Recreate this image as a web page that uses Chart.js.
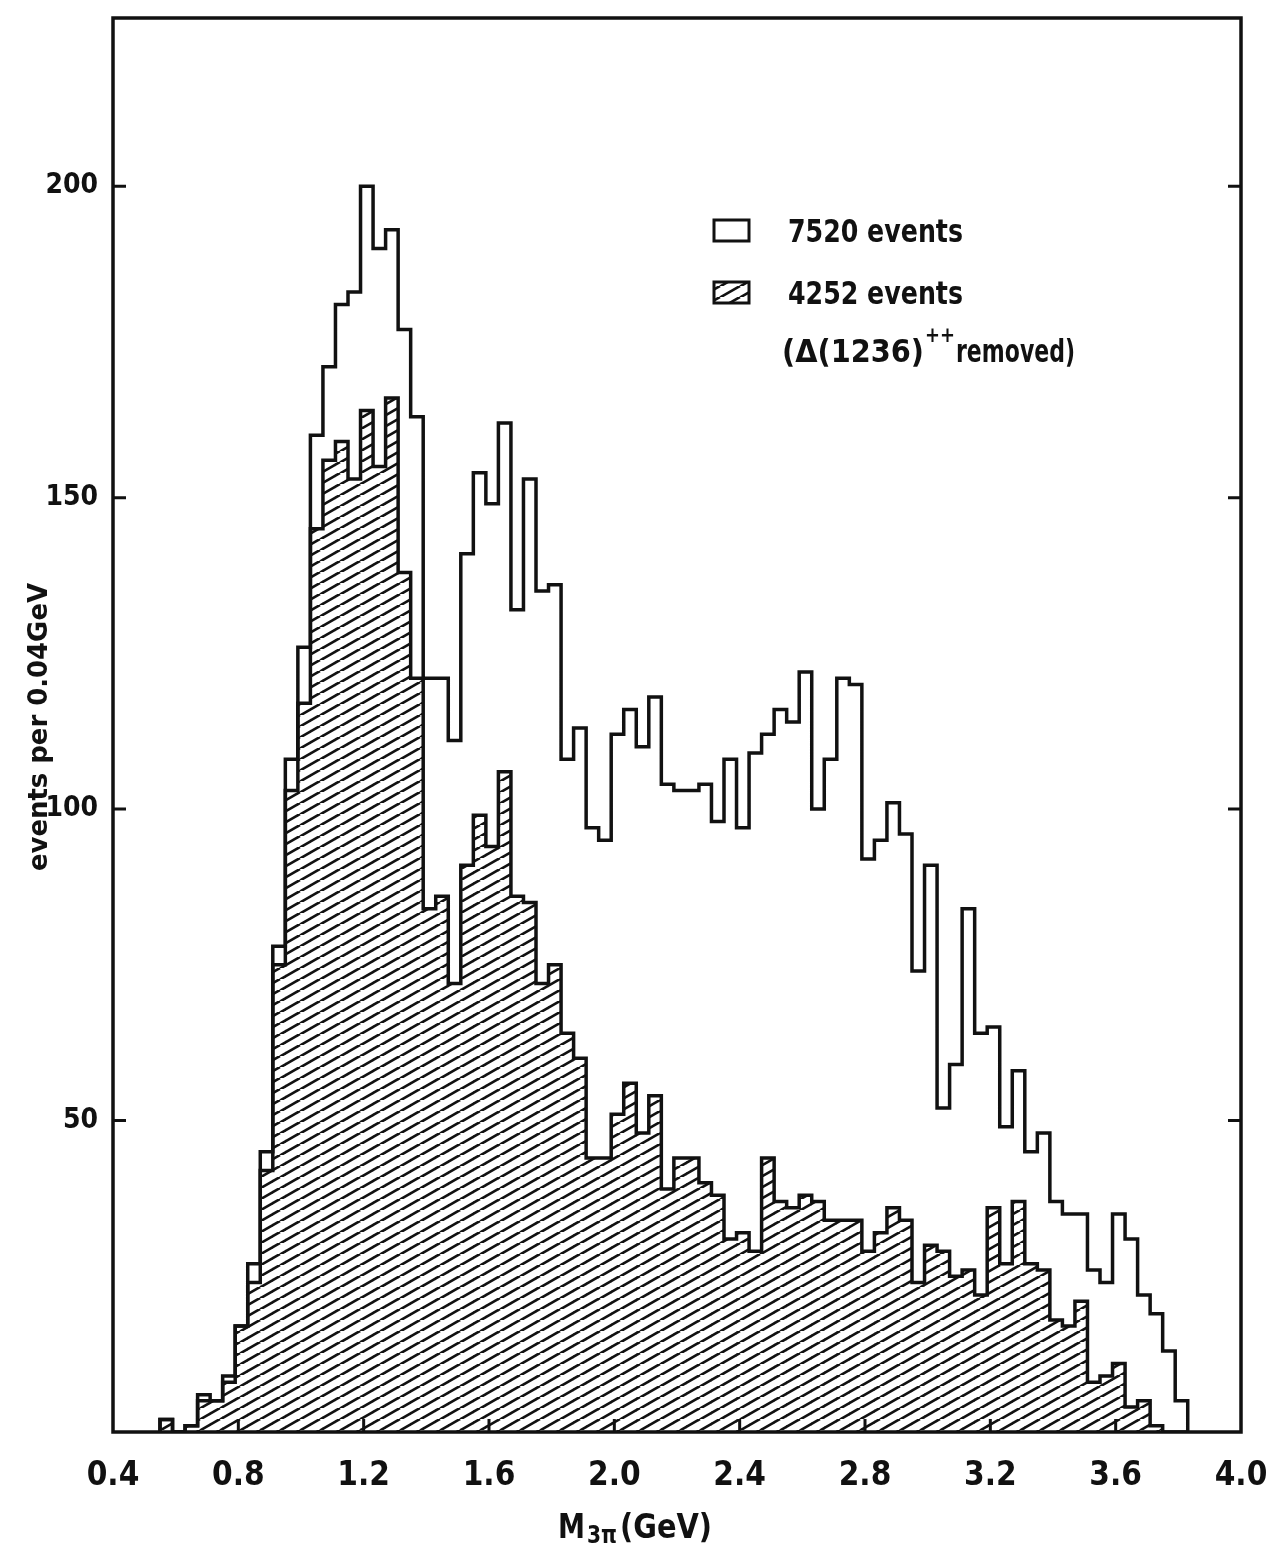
<!DOCTYPE html>
<html>
<head>
<meta charset="utf-8">
<script src="https://cdn.jsdelivr.net/npm/chart.js@4.4.0/dist/chart.umd.min.js"></script>
<style>
  html, body { margin: 0; padding: 0; background: #fff; }
  #wrap { width: 1274px; height: 1544px; }
</style>
</head>
<body>
<div id="wrap"><canvas id="chart" width="1274" height="1544"></canvas></div>
<script>
// lower edges of the 0.04 GeV mass bins (GeV)
const binLow = [
  0.55, 0.59, 0.63, 0.67, 0.71, 0.75, 0.79, 0.83, 0.87, 0.91,
  0.95, 0.99, 1.03, 1.07, 1.11, 1.15, 1.19, 1.23, 1.27, 1.31,
  1.35, 1.39, 1.43, 1.47, 1.51, 1.55, 1.59, 1.63, 1.67, 1.71,
  1.75, 1.79, 1.83, 1.87, 1.91, 1.95, 1.99, 2.03, 2.07, 2.11,
  2.15, 2.19, 2.23, 2.27, 2.31, 2.35, 2.39, 2.43, 2.47, 2.51,
  2.55, 2.59, 2.63, 2.67, 2.71, 2.75, 2.79, 2.83, 2.87, 2.91,
  2.95, 2.99, 3.03, 3.07, 3.11, 3.15, 3.19, 3.23, 3.27, 3.31,
  3.35, 3.39, 3.43, 3.47, 3.51, 3.55, 3.59, 3.63, 3.67, 3.71,
  3.75, 3.79
];
const binWidth = 0.04;

// all 3pi events (7520)
const allEvents = [
  2, 0, 1, 6, 5, 9, 17, 27, 45, 78,
  108, 126, 160, 171, 181, 183, 200, 190, 193, 177,
  163, 121, 121, 111, 141, 154, 149, 162, 132, 153,
  135, 136, 108, 113, 97, 95, 112, 116, 110, 118,
  104, 103, 103, 104, 98, 108, 97, 109, 112, 116,
  114, 122, 100, 108, 121, 120, 92, 95, 101, 96,
  74, 91, 52, 59, 84, 64, 65, 49, 58, 45,
  48, 37, 35, 35, 26, 24, 35, 31, 22, 19,
  13, 5
];

// events left after the Delta(1236)++ cut (4252)
const cutEvents = [
  2, 0, 1, 5, 5, 8, 17, 24, 42, 75,
  103, 117, 145, 156, 159, 153, 164, 155, 166, 138,
  121, 84, 86, 72, 91, 99, 94, 106, 86, 85,
  72, 75, 64, 60, 44, 44, 51, 56, 48, 54,
  39, 44, 44, 40, 38, 31, 32, 29, 44, 37,
  36, 38, 37, 34, 34, 34, 29, 32, 36, 34,
  24, 30, 29, 25, 26, 22, 36, 27, 37, 27,
  26, 18, 17, 21, 8, 9, 11, 4, 5, 1,
  0, 0
];

const xTicks = [0.4, 0.8, 1.2, 1.6, 2.0, 2.4, 2.8, 3.2, 3.6, 4.0];
const yTicks = [50, 100, 150, 200];
const legendText = ['7520 events', '4252 events'];

const FONT = "'DejaVu Sans Condensed', 'Liberation Sans Narrow', 'DejaVu Sans', sans-serif";
const INK = '#111';

// diagonal "////" fill
function hatch(ctx) {
  const w = 20, h = 11.5;
  const tile = document.createElement('canvas');
  tile.width = w;
  tile.height = h;
  const g = tile.getContext('2d');
  g.strokeStyle = INK;
  g.lineWidth = 2.6;
  g.beginPath();
  for (const dx of [-w, 0, w]) {
    g.moveTo(dx, h);
    g.lineTo(dx + w, 0);
  }
  g.stroke();
  return ctx.createPattern(tile, 'repeat');
}

// histogram outline as a stepped polyline through the bin edges
function outline(values) {
  const pts = [{x: binLow[0], y: 0}];
  values.forEach((v, i) => pts.push({x: binLow[i], y: v}));
  pts.push({x: binLow[binLow.length - 1] + binWidth, y: 0});
  return pts;
}

function fitText(ctx, text, x, y, width, font) {
  ctx.font = font;
  const w = ctx.measureText(text).width;
  ctx.save();
  ctx.translate(x, y);
  ctx.scale(width / w, 1);
  ctx.textAlign = 'left';
  ctx.fillText(text, 0, 0);
  ctx.restore();
}

// keep the plot box exactly where the layout padding puts it
function noPad(axis) {
  axis.paddingLeft = axis.paddingRight = axis.paddingTop = axis.paddingBottom = 0;
}

const canvas = document.getElementById('chart');
const ctx = canvas.getContext('2d');
const pattern = hatch(ctx);

const frame = {
  id: 'frame',
  beforeDraw(chart) {
    const c = chart.ctx;
    c.save();
    c.fillStyle = '#fff';
    c.fillRect(0, 0, chart.width, chart.height);
    c.restore();
  },
  afterDatasetsDraw(chart) {
    const c = chart.ctx;
    const a = chart.chartArea;
    const x = chart.scales.x, y = chart.scales.y;
    c.save();
    c.strokeStyle = INK;
    c.lineWidth = 3.5;
    c.lineCap = 'butt';
    c.strokeRect(a.left, a.top, a.right - a.left, a.bottom - a.top);

    c.lineWidth = 3;
    c.beginPath();
    yTicks.forEach(v => {
      const py = y.getPixelForValue(v);
      c.moveTo(a.left, py); c.lineTo(a.left + 13, py);
      c.moveTo(a.right, py); c.lineTo(a.right - 13, py);
    });
    xTicks.slice(1, -1).forEach(v => {
      const px = x.getPixelForValue(v);
      c.moveTo(px, a.bottom); c.lineTo(px, a.bottom - 13);
    });
    c.stroke();

    // legend
    c.lineWidth = 3;
    c.strokeRect(714, 220, 35, 21);
    c.fillStyle = pattern;
    c.fillRect(714, 282, 35, 21);
    c.strokeRect(714, 282, 35, 21);

    c.fillStyle = INK;
    c.textBaseline = 'alphabetic';
    fitText(c, legendText[0], 788, 242, 175, 'bold 32px ' + FONT);
    fitText(c, legendText[1], 788, 304, 175, 'bold 32px ' + FONT);
    fitText(c, '(\u0394(1236)', 782, 362, 142, 'bold 32px ' + FONT);
    fitText(c, '++', 925, 342, 30, 'bold 22px ' + FONT);
    fitText(c, 'removed)', 956, 362, 119, 'bold 32px ' + FONT);

    // axis titles
    c.save();
    c.translate(47, 727);
    c.rotate(-Math.PI / 2);
    fitText(c, 'events per 0.04GeV', -144, 0, 288, 'bold 27px ' + FONT);
    c.restore();

    fitText(c, 'M', 558, 1538, 27, 'bold 34px ' + FONT);
    fitText(c, '3\u03c0', 587, 1543, 30, 'bold 24px ' + FONT);
    fitText(c, '(GeV)', 620, 1538, 92, 'bold 34px ' + FONT);
    c.restore();
  }
};

new Chart(ctx, {
  type: 'bar',
  data: {
    datasets: [
      {
        type: 'line',
        label: '7520 events',
        data: outline(allEvents),
        stepped: true,
        borderColor: INK,
        borderWidth: 3.5,
        borderJoinStyle: 'miter',
        pointRadius: 0,
        fill: false,
        order: 0
      },
      {
        type: 'line',
        label: '4252 events outline',
        data: outline(cutEvents),
        stepped: true,
        borderColor: INK,
        borderWidth: 3.5,
        borderJoinStyle: 'miter',
        pointRadius: 0,
        fill: false,
        order: 1
      },
      {
        type: 'bar',
        label: '4252 events',
        data: cutEvents.map((v, i) => ({x: binLow[i] + binWidth / 2, y: v})),
        backgroundColor: pattern,
        borderWidth: 0,
        barPercentage: 1,
        categoryPercentage: 1,
        order: 2
      }
    ]
  },
  options: {
    responsive: false,
    animation: false,
    events: [],
    layout: { padding: { left: 0, right: 33, top: 18, bottom: 0 } },
    plugins: { legend: { display: false }, tooltip: { enabled: false } },
    scales: {
      x: {
        type: 'linear',
        min: 0.4,
        max: 4.0,
        offset: false,
        grid: { display: false, drawTicks: false },
        border: { display: false },
        afterBuildTicks: axis => { axis.ticks = xTicks.map(v => ({value: v})); },
        afterFit: axis => { axis.height = 112; noPad(axis); },
        ticks: {
          padding: 25,
          color: INK,
          maxRotation: 0,
          autoSkip: false,
          font: { family: FONT, size: 33, weight: 'bold' },
          callback: v => v.toFixed(1)
        }
      },
      y: {
        min: 0,
        max: 227,
        grid: { display: false, drawTicks: false },
        border: { display: false },
        afterBuildTicks: axis => { axis.ticks = yTicks.map(v => ({value: v})); },
        afterFit: axis => { axis.width = 113; noPad(axis); },
        ticks: {
          padding: 15,
          color: INK,
          font: { family: FONT, size: 28, weight: 'bold' },
          callback: v => String(v)
        }
      }
    }
  },
  plugins: [frame]
});
</script>
</body>
</html>
